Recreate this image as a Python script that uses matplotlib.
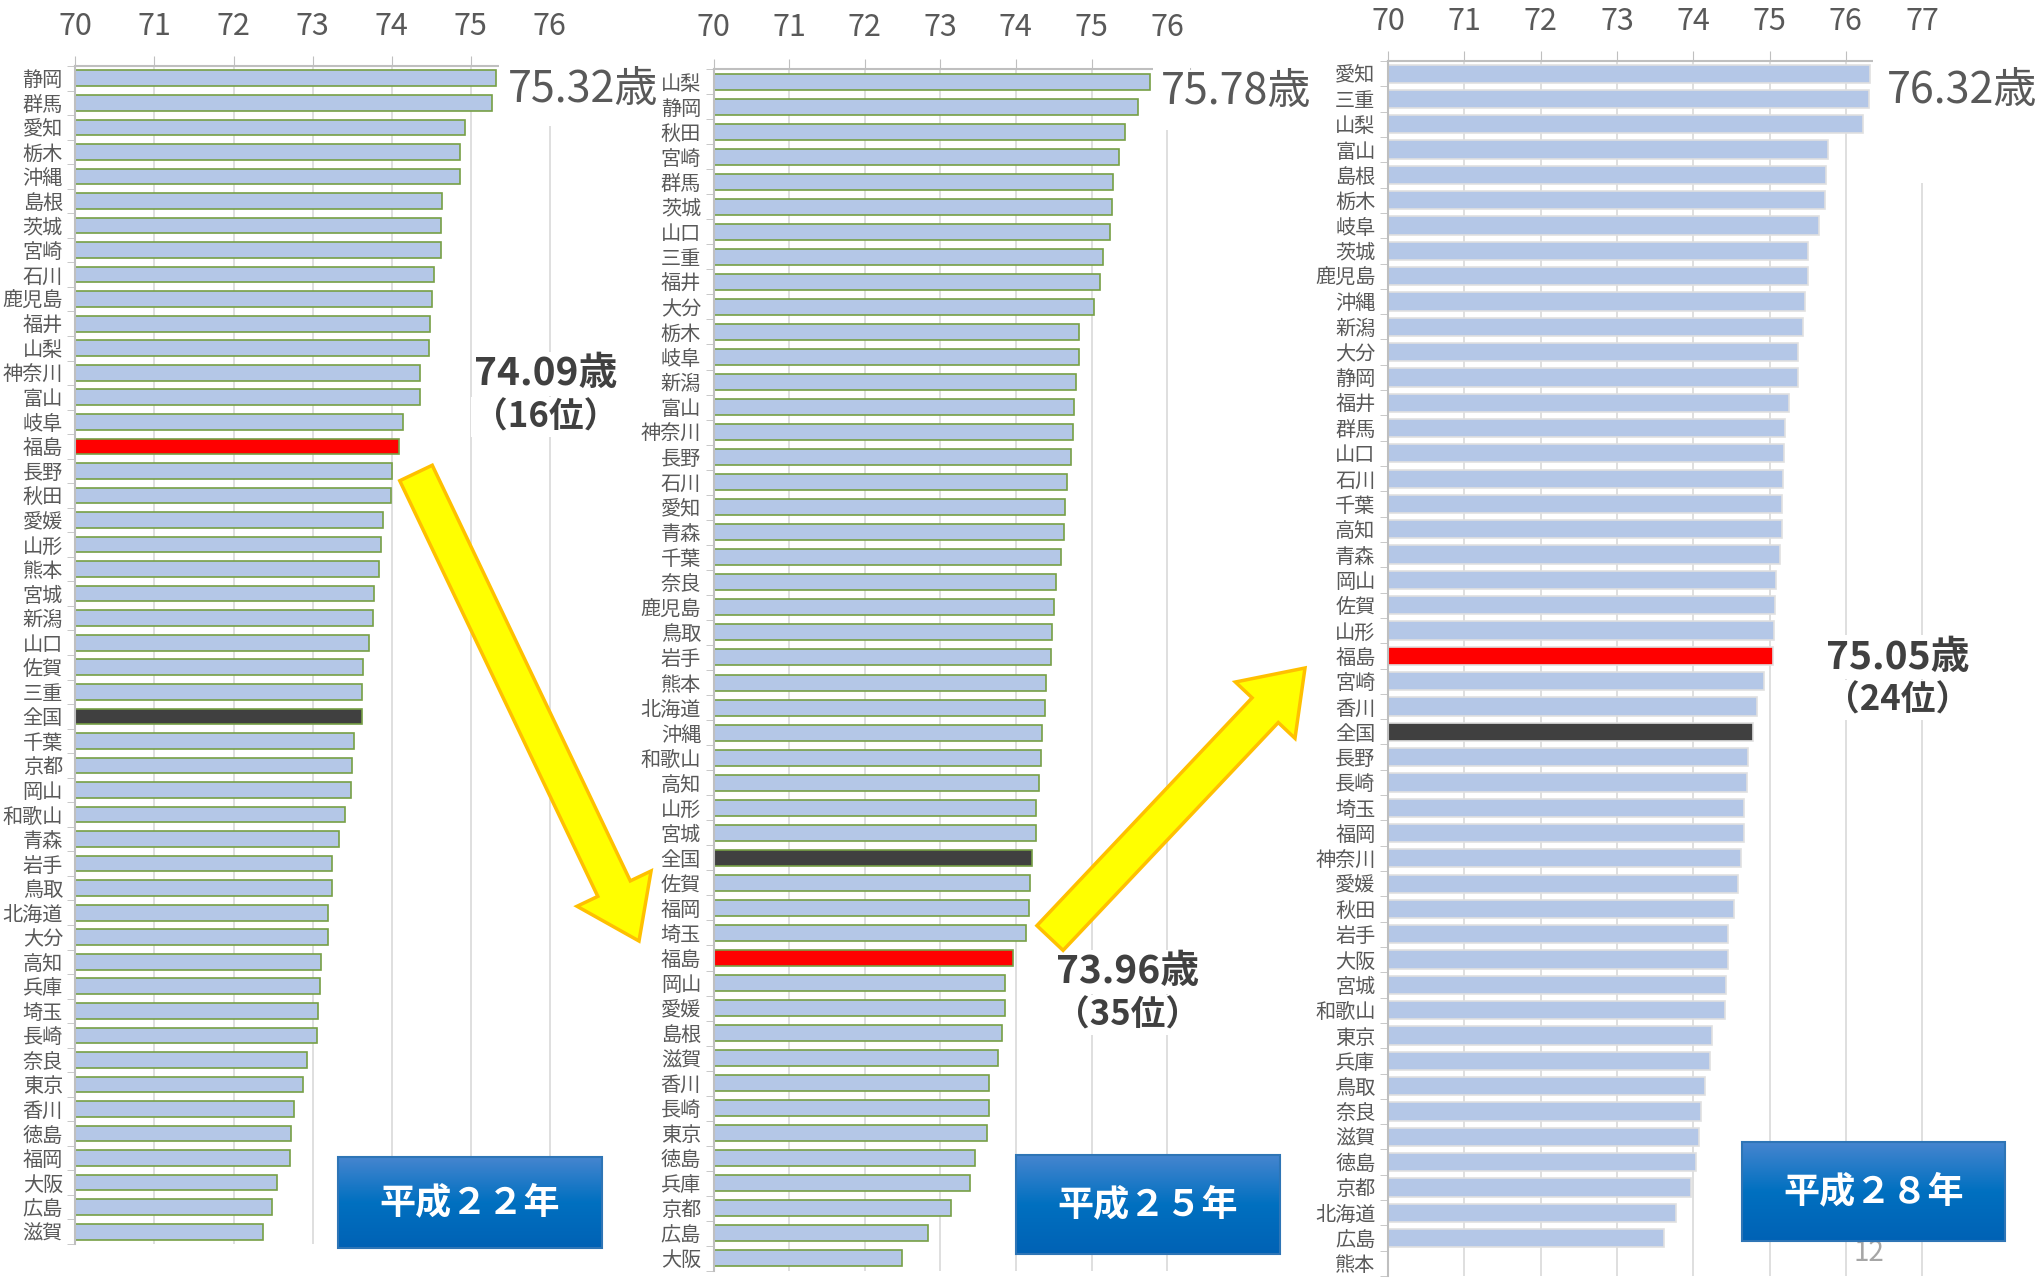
import numpy as np
import matplotlib
matplotlib.use('Agg')
import matplotlib.pyplot as plt
from matplotlib.patches import FancyArrow, Rectangle

plt.rcParams['font.family'] = ['Noto Sans CJK JP', 'DejaVu Sans']
NUM_FONT = ['Liberation Sans Narrow', 'Noto Sans CJK JP']

W, H = 2038, 1282

# 平成22年
pref_22 = ['静岡', '群馬', '愛知', '栃木', '沖縄', '島根', '茨城', '宮崎', '石川', '鹿児島',
           '福井', '山梨', '神奈川', '富山', '岐阜', '福島', '長野', '秋田', '愛媛', '山形',
           '熊本', '宮城', '新潟', '山口', '佐賀', '三重', '全国', '千葉', '京都', '岡山',
           '和歌山', '青森', '岩手', '鳥取', '北海道', '大分', '高知', '兵庫', '埼玉', '長崎',
           '奈良', '東京', '香川', '徳島', '福岡', '大阪', '広島', '滋賀']
val_22 = [75.32, 75.27, 74.93, 74.86, 74.86, 74.64, 74.62, 74.62, 74.54, 74.51,
          74.49, 74.47, 74.36, 74.36, 74.15, 74.09, 74.00, 73.99, 73.89, 73.87,
          73.84, 73.78, 73.77, 73.71, 73.64, 73.63, 73.62, 73.53, 73.50, 73.48,
          73.41, 73.34, 73.25, 73.24, 73.19, 73.19, 73.11, 73.09, 73.07, 73.05,
          72.93, 72.88, 72.76, 72.73, 72.72, 72.55, 72.49, 72.37]

# 平成25年
pref_25 = ['山梨', '静岡', '秋田', '宮崎', '群馬', '茨城', '山口', '三重', '福井', '大分',
           '栃木', '岐阜', '新潟', '富山', '神奈川', '長野', '石川', '愛知', '青森', '千葉',
           '奈良', '鹿児島', '鳥取', '岩手', '熊本', '北海道', '沖縄', '和歌山', '高知', '山形',
           '宮城', '全国', '佐賀', '福岡', '埼玉', '福島', '岡山', '愛媛', '島根', '滋賀',
           '香川', '長崎', '東京', '徳島', '兵庫', '京都', '広島', '大阪']
val_25 = [75.78, 75.61, 75.44, 75.37, 75.28, 75.27, 75.24, 75.15, 75.11, 75.03,
          74.84, 74.83, 74.80, 74.77, 74.76, 74.73, 74.67, 74.65, 74.64, 74.59,
          74.53, 74.51, 74.48, 74.46, 74.40, 74.39, 74.34, 74.33, 74.31, 74.27,
          74.26, 74.21, 74.19, 74.17, 74.14, 73.96, 73.86, 73.86, 73.81, 73.76,
          73.65, 73.65, 73.62, 73.46, 73.39, 73.14, 72.84, 72.49]

# 平成28年（熊本は値なし）
pref_28 = ['愛知', '三重', '山梨', '富山', '島根', '栃木', '岐阜', '茨城', '鹿児島', '沖縄',
           '新潟', '大分', '静岡', '福井', '群馬', '山口', '石川', '千葉', '高知', '青森',
           '岡山', '佐賀', '山形', '福島', '宮崎', '香川', '全国', '長野', '長崎', '埼玉',
           '福岡', '神奈川', '愛媛', '秋田', '岩手', '大阪', '宮城', '和歌山', '東京', '兵庫',
           '鳥取', '奈良', '滋賀', '徳島', '京都', '北海道', '広島', '熊本']
val_28 = [76.32, 76.30, 76.22, 75.77, 75.74, 75.73, 75.65, 75.51, 75.51, 75.46,
          75.44, 75.38, 75.37, 75.26, 75.20, 75.19, 75.18, 75.17, 75.17, 75.14,
          75.09, 75.07, 75.06, 75.05, 74.93, 74.83, 74.79, 74.72, 74.71, 74.67,
          74.66, 74.63, 74.59, 74.53, 74.46, 74.46, 74.43, 74.42, 74.24, 74.22,
          74.15, 74.10, 74.07, 74.04, 73.97, 73.77, 73.62, None]

years = ['平成２２年', '平成２５年', '平成２８年']
fuku_text = [('74.09歳', '（16位）'), ('73.96歳', '（35位）'), ('75.05歳', '（24位）')]
top_text = ['75.32歳', '75.78歳', '76.32歳']

BLUE = '#B4C7E7'
GRID = '#D9D9D9'
AXC = '#BFBFBF'
TXT = '#595959'

fig = plt.figure(figsize=(W / 100, H / 100), dpi=100)


def panel(names, values, left, top, bottom, ppu, xmax, xticks, edge, bar_h,
          label_size, label_top):
    ax = fig.add_axes([left / W, 1 - bottom / H, (xmax - 70) * ppu / W, (bottom - top) / H])
    y = np.arange(len(names))
    idx = [i for i, v in enumerate(values) if v is not None]
    cols = ['#FF0000' if names[i] == '福島' else '#404040' if names[i] == '全国' else BLUE
            for i in idx]
    ax.barh([y[i] for i in idx], [values[i] - 70 for i in idx], left=70, height=bar_h,
            color=cols, edgecolor=edge, linewidth=1.2, zorder=2)
    ax.set_xlim(70, xmax)
    ax.set_ylim(len(names) - 0.5, -0.5)
    ax.set_xticks(xticks)
    ax.set_xticklabels([str(t) for t in xticks], family=NUM_FONT, fontsize=22, color=TXT)
    ax.xaxis.tick_top()
    ax.tick_params(axis='x', which='major', direction='out', length=7, color=AXC,
                   pad=label_top)
    ax.set_yticks(y)
    ax.set_yticklabels(names, fontsize=label_size, color=TXT)
    ax.set_yticks(np.arange(len(names) + 1) - 0.5, minor=True)
    ax.tick_params(axis='y', which='major', length=0, pad=9)
    ax.tick_params(axis='y', which='minor', direction='out', length=6, color=AXC)
    ax.xaxis.grid(True, color=GRID, lw=1.2, zorder=0)
    ax.set_axisbelow(True)
    for s in ('right', 'bottom'):
        ax.spines[s].set_visible(False)
    for s in ('top', 'left'):
        ax.spines[s].set_color(AXC)
        ax.spines[s].set_linewidth(1.5)
    ax.patch.set_alpha(0)
    return ax


panel(pref_22, val_22, 75.4, 66, 1244, 79.06, 76.4, range(70, 77), '#77A045', 0.64, 14.5, 10)
panel(pref_25, val_25, 713.5, 69, 1271, 75.6, 76.3, range(70, 77), '#77A045', 0.64, 14.5, 12)
panel(pref_28, val_28, 1388, 61, 1276, 76.3, 77.3, range(70, 78), '#E0E0E0', 0.72, 14.5, 10)

# overlay in pixel coordinates for callouts, arrows and year boxes
ov = fig.add_axes([0, 0, 1, 1], zorder=10)
ov.axis('off')
ov.patch.set_alpha(0)

# white masks to the right of the top spine, behind the top callouts
for x0, x1, y0, y1 in [(499, 600, 45, 126), (1153, 1190, 45, 130), (1873, W, 40, 183)]:
    ov.add_patch(Rectangle((x0, y0), x1 - x0, y1 - y0, fc='white', ec='none', zorder=1))

for (x, yy), t in zip([(583, 90), (1236, 92), (1962, 91)], top_text):
    ov.text(x, yy, t, ha='center', va='center', fontsize=31, color=TXT,
            family=NUM_FONT, zorder=3)

for (x, yy), (a, b) in zip([(546, 374), (1128, 972), (1898, 657)], fuku_text):
    ov.text(x, yy, a, ha='center', va='center', fontsize=28, color='#404040',
            weight='bold', family=NUM_FONT, zorder=3,
            bbox=dict(fc='white', ec='none', pad=2))
    ov.text(x, yy + 43, b, ha='center', va='center', fontsize=25, color='#404040',
            weight='bold', family=NUM_FONT, zorder=3,
            bbox=dict(fc='white', ec='none', pad=2))

# yellow arrows
for (x0, y0), (x1, y1) in [((416, 473), (639, 941)), ((1050, 938), (1305, 668))]:
    ov.add_patch(FancyArrow(x0, y0, x1 - x0, y1 - y0, width=36, head_width=82,
                            head_length=58, length_includes_head=True,
                            fc='#FFFF00', ec='#FFC000', lw=2.5, zorder=4))

# year boxes with vertical gradient
grad = np.linspace(0, 1, 100).reshape(-1, 1)
cmap = matplotlib.colors.LinearSegmentedColormap.from_list('yb', ['#4585CF', '#0070C0', '#0062B5'])
for (x0, y0, x1, y1), t in zip([(338, 1157, 602, 1248), (1016, 1155, 1280, 1254),
                                (1742, 1142, 2005, 1241)], years):
    ov.imshow(grad, extent=(x0, x1, y1, y0), cmap=cmap, aspect='auto', zorder=5)
    ov.add_patch(Rectangle((x0, y0), x1 - x0, y1 - y0, fc='none', ec='#2E75B6',
                           lw=1.5, zorder=6))
    ov.text((x0 + x1) / 2, (y0 + y1) / 2, t, ha='center', va='center', fontsize=26,
            color='white', weight='bold', zorder=7)

ov.set_xlim(0, W)
ov.set_ylim(H, 0)

ov.text(1869, 1253, '12', ha='center', va='center', fontsize=20, color='#A6A6A6',
        family=NUM_FONT, zorder=3)

fig.savefig('out.png', dpi=100)
